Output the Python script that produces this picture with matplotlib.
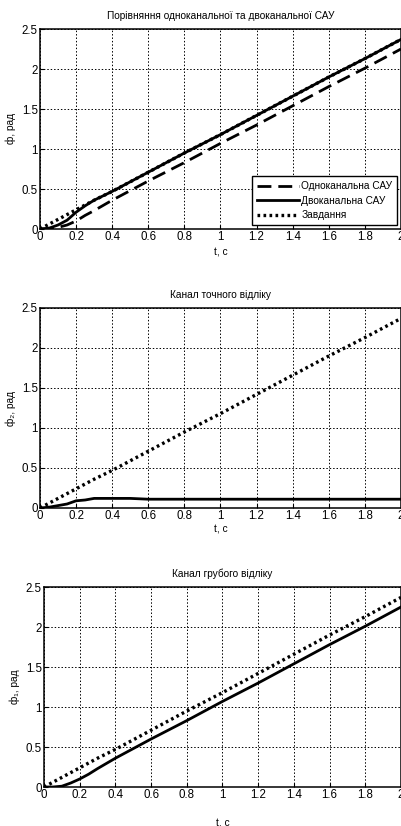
import numpy as np
import matplotlib.pyplot as plt

plt.rcParams['font.family'] = ['Liberation Sans', 'DejaVu Sans']

# time points, s
t = [0.0, 0.05, 0.1, 0.15, 0.2, 0.25, 0.3, 0.4, 0.5, 0.6, 0.8, 1.0, 1.2, 1.4, 1.6, 1.8, 2.0]

# reference (Завдання)
ref = [0.0, 0.06, 0.12, 0.18, 0.24, 0.30, 0.36, 0.47, 0.59, 0.71, 0.95, 1.18, 1.42, 1.66, 1.90, 2.13, 2.37]
# dual-channel system
dual = [0.0, 0.01, 0.05, 0.11, 0.21, 0.29, 0.36, 0.47, 0.59, 0.71, 0.95, 1.18, 1.42, 1.66, 1.90, 2.13, 2.37]
# single-channel system
single = [0.0, 0.0, 0.02, 0.05, 0.10, 0.17, 0.23, 0.36, 0.48, 0.60, 0.83, 1.07, 1.30, 1.54, 1.78, 2.01, 2.25]
# fine channel phi2
fine = [0.0, 0.01, 0.03, 0.05, 0.09, 0.10, 0.12, 0.12, 0.12, 0.11, 0.11, 0.11, 0.11, 0.11, 0.11, 0.11, 0.11]
# coarse channel phi1
coarse = [0.0, 0.0, 0.01, 0.05, 0.10, 0.16, 0.23, 0.36, 0.48, 0.60, 0.83, 1.07, 1.30, 1.54, 1.78, 2.01, 2.25]

xticks = [0, 0.2, 0.4, 0.6, 0.8, 1, 1.2, 1.4, 1.6, 1.8, 2]
xticklabels = ['0', '0.2', '0.4', '0.6', '0.8', '1', '1.2', '1.4', '1.6', '1.8', '2']
yticks = [0, 0.5, 1, 1.5, 2, 2.5]
yticklabels = ['0', '0.5', '1', '1.5', '2', '2.5']

W, H = 402, 826
fig = plt.figure(figsize=(W / 100, H / 100), dpi=100)


def make_ax(left, top, bottom, title, ylabel, xlabel_y):
    ax = fig.add_axes([left / W, 1 - bottom / H, (401 - left) / W, (bottom - top) / H])
    ax.set_xlim(0, 2)
    ax.set_ylim(0, 2.5)
    ax.set_xticks(xticks)
    ax.set_xticklabels(xticklabels)
    ax.set_yticks(yticks)
    ax.set_yticklabels(yticklabels)
    ax.tick_params(direction='in', labelsize=8.3, length=3, pad=1.5)
    ax.grid(True, color='black', linestyle=(0, (1.5, 2)), linewidth=0.7)
    for s in ax.spines.values():
        s.set_linewidth(1.1)
    ax.set_title(title, fontsize=7.3, pad=7)
    ax.set_ylabel(ylabel, fontsize=7.3, labelpad=4)
    fig.text((left + 401) / 2 / W, 1 - xlabel_y / H, 't, c', fontsize=7.3, ha='center', va='center')
    return ax


dot_style = dict(color='black', linewidth=2.4, linestyle=(0, (0.8, 1.0)))

ax1 = make_ax(40, 29, 229, 'Порівняння одноканальної та двоканальної САУ', 'ф, рад', 252)
ax1.plot(t, single, color='black', linewidth=2, linestyle=(0, (5, 2.5)), label='Одноканальна САУ')
ax1.plot(t, dual, color='black', linewidth=2, label='Двоканальна САУ')
ax1.plot(t, ref, label='Завдання', **dot_style)
leg = ax1.legend(loc='lower right', fontsize=7.3, fancybox=False, framealpha=1,
                 edgecolor='black', borderaxespad=0.35, handlelength=4.2, handletextpad=0.2,
                 labelspacing=0.45, borderpad=0.5)
leg.get_frame().set_linewidth(1.0)

ax2 = make_ax(40, 308, 508, 'Канал точного відліку', 'ф₂, рад', 529)
ax2.plot(t, ref, **dot_style)
ax2.plot(t, fine, color='black', linewidth=2)

ax3 = make_ax(44, 587, 787, 'Канал грубого відліку', 'ф₁, рад', 823)
ax3.plot(t, ref, **dot_style)
ax3.plot(t, coarse, color='black', linewidth=2)

fig.savefig('out.png', dpi=100)
